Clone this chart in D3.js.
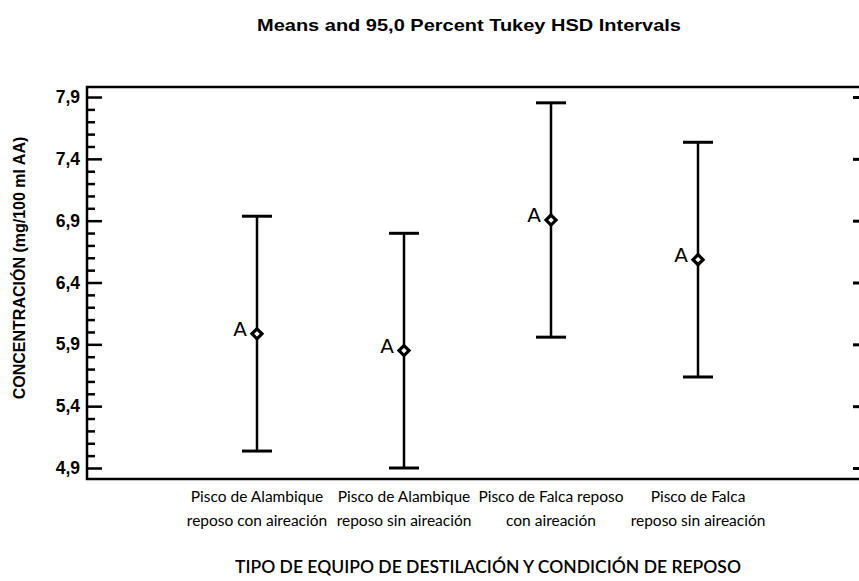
<!DOCTYPE html>
<html>
<head>
<meta charset="utf-8">
<script src="https://cdn.jsdelivr.net/npm/d3@7"></script>
<style>
  html, body { margin: 0; padding: 0; background: #fff; }
  svg { display: block; }
</style>
</head>
<body>
<svg id="chart" width="859" height="581"></svg>
<script>
// Group names (two text lines each), means and 95% Tukey HSD interval limits
const categories = [
  ["Pisco de Alambique", "reposo con aireación"],
  ["Pisco de Alambique", "reposo sin aireación"],
  ["Pisco de Falca reposo", "con aireación"],
  ["Pisco de Falca", "reposo sin aireación"]
];
const means = [5.985, 5.850, 6.905, 6.585];
const lower = [5.037, 4.900, 5.958, 5.636];
const upper = [6.936, 6.798, 7.853, 7.534];
const groupLetters = ["A", "A", "A", "A"];
const majorTicks = [4.9, 5.4, 5.9, 6.4, 6.9, 7.4, 7.9];
const minorTicks = d3.range(4.9, 7.95, 0.1).map(v => +v.toFixed(1));

const svg = d3.select("#chart");
const margin = { left: 87, top: 87, bottom: 479 };
const plotRight = 861;

const y = d3.scaleLinear().domain([4.811, 7.981]).range([margin.bottom, margin.top]);
const x = d3.scalePoint()
  .domain(d3.range(categories.length))
  .range([257, 698]);

const fmt = v => v.toFixed(1).replace(".", ",");

// Title
svg.append("text")
  .attr("x", 469).attr("y", 31)
  .attr("text-anchor", "middle")
  .attr("font-family", "'Liberation Sans', Arial, sans-serif")
  .attr("font-weight", "bold")
  .attr("font-size", 17)
  .attr("textLength", 424)
  .attr("lengthAdjust", "spacingAndGlyphs")
  .attr("fill", "#000")
  .text("Means and 95,0 Percent Tukey HSD Intervals");

// Frame: left, top and bottom lines
svg.append("path")
  .attr("d", `M${plotRight},${margin.top}H${margin.left}V${margin.bottom}H${plotRight}`)
  .attr("fill", "none").attr("stroke", "#000").attr("stroke-width", 2.5);

// Left axis: inward major and minor ticks
const leftAxis = d3.axisRight(y)
  .tickValues(majorTicks)
  .tickSize(15)
  .tickFormat("");
const gL = svg.append("g").attr("transform", `translate(${margin.left},0)`).call(leftAxis);
gL.select(".domain").remove();
gL.selectAll(".tick line").attr("stroke", "#000").attr("stroke-width", 2.5);

const leftMinor = d3.axisRight(y)
  .tickValues(minorTicks.filter(v => !majorTicks.some(m => Math.abs(m - v) < 1e-6)))
  .tickSize(8)
  .tickFormat("");
const gLm = svg.append("g").attr("transform", `translate(${margin.left},0)`).call(leftMinor);
gLm.select(".domain").remove();
gLm.selectAll(".tick line").attr("stroke", "#000").attr("stroke-width", 2.5);

// Tick labels
const labelAxis = d3.axisLeft(y)
  .tickValues(majorTicks)
  .tickSize(0)
  .tickPadding(7)
  .tickFormat(fmt);
const gLab = svg.append("g").attr("transform", `translate(${margin.left},0)`).call(labelAxis);
gLab.select(".domain").remove();
gLab.selectAll(".tick text")
  .attr("font-family", "'Liberation Sans', Arial, sans-serif")
  .attr("font-weight", "bold")
  .attr("font-size", 17.5)
  .attr("fill", "#000");

// Right side: short inward major ticks
const rightAxis = d3.axisLeft(y)
  .tickValues(majorTicks)
  .tickSize(8)
  .tickFormat("");
const gR = svg.append("g").attr("transform", `translate(${plotRight},0)`).call(rightAxis);
gR.select(".domain").remove();
gR.selectAll(".tick line").attr("stroke", "#000").attr("stroke-width", 3);

// Y axis title
svg.append("text")
  .attr("transform", "translate(25,268) rotate(-90)")
  .attr("text-anchor", "middle")
  .attr("font-family", "'Liberation Sans', Arial, sans-serif")
  .attr("font-weight", "bold")
  .attr("font-size", 16)
  .attr("fill", "#000")
  .text("CONCENTRACIÓN (mg/100 ml AA)");

// Interval bars
const capHalf = 15;
const groups = svg.append("g").selectAll("g")
  .data(d3.range(categories.length))
  .join("g");

groups.append("line")
  .attr("x1", i => x(i)).attr("x2", i => x(i))
  .attr("y1", i => y(upper[i])).attr("y2", i => y(lower[i]))
  .attr("stroke", "#000").attr("stroke-width", 2.5);

groups.append("line")
  .attr("x1", i => x(i) - capHalf).attr("x2", i => x(i) + capHalf)
  .attr("y1", i => y(upper[i])).attr("y2", i => y(upper[i]))
  .attr("stroke", "#000").attr("stroke-width", 3);

groups.append("line")
  .attr("x1", i => x(i) - capHalf).attr("x2", i => x(i) + capHalf)
  .attr("y1", i => y(lower[i])).attr("y2", i => y(lower[i]))
  .attr("stroke", "#000").attr("stroke-width", 3);

// Mean markers: small diamonds with a light centre
const dR = 5;
groups.append("path")
  .attr("d", i => {
    const cx = x(i), cy = y(means[i]);
    return `M${cx},${cy - dR}L${cx + dR},${cy}L${cx},${cy + dR}L${cx - dR},${cy}Z`;
  })
  .attr("fill", "#fff").attr("stroke", "#000").attr("stroke-width", 3.2);

// Homogeneous group letters
groups.append("text")
  .attr("x", i => x(i) - 10)
  .attr("y", i => y(means[i]) + 2)
  .attr("text-anchor", "end")
  .attr("font-family", "'DejaVu Sans', sans-serif")
  .attr("font-size", 20)
  .attr("fill", "#000")
  .text(i => groupLetters[i]);

// Category labels
const catText = svg.append("g").selectAll("text")
  .data(d3.range(categories.length))
  .join("text")
  .attr("text-anchor", "middle")
  .attr("font-family", "Lato, 'Open Sans', sans-serif")
  .attr("font-size", 15.5)
  .attr("fill", "#000");
catText.selectAll("tspan")
  .data(i => categories[i].map(t => ({ i, t })))
  .join("tspan")
  .attr("x", d => x(d.i))
  .attr("y", (d, k) => 502 + k * 24)
  .text(d => d.t);

// X axis title
svg.append("text")
  .attr("x", 488).attr("y", 573)
  .attr("text-anchor", "middle")
  .attr("font-family", "Lato, 'Open Sans', sans-serif")
  .attr("font-weight", 600)
  .attr("font-size", 17.5)
  .attr("fill", "#000")
  .text("TIPO DE EQUIPO DE DESTILACIÓN Y CONDICIÓN DE REPOSO");
</script>
</body>
</html>
